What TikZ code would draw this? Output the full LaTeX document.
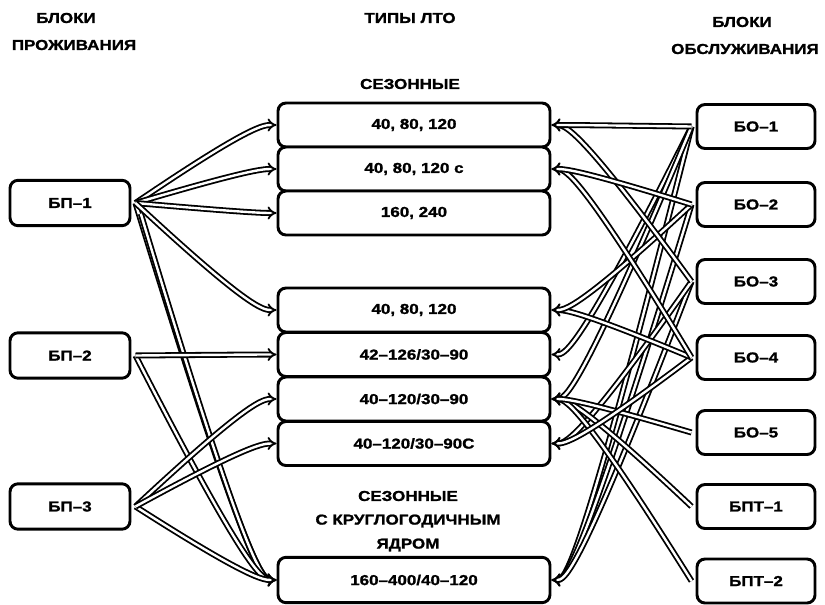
\documentclass[tikz,border=0pt]{standalone}
\usepackage{fontspec}
\newfontfamily\lbl{Liberation Sans}[FakeStretch=1.18, FakeBold=1.3]
\usetikzlibrary{arrows.meta,calc}
\newcommand\lcn[2]{\draw[conn] ([xshift=3pt]#1.east) .. controls ($(#2.west)+(-26,0)$) and ($(#2.west)+(-13,0)$) .. (#2.west);}
\newcommand\rcn[2]{\draw[conn] ([xshift=-3pt]#1.west) .. controls ($(#2.east)+(26,0)$) and ($(#2.east)+(13,0)$) .. (#2.east);}
\begin{document}
\begin{tikzpicture}[x=0.75pt,y=-0.75pt,
  txt/.style={font=\lbl\bfseries\fontsize{10.8}{12}\selectfont, inner sep=0pt},
  box/.style={txt, draw, line width=2.2pt, rounded corners=6pt, fill=white},
  lbox/.style={box, minimum width=90pt, minimum height=34pt},
  mbox/.style={box, minimum width=204pt, minimum height=33pt},
  rbox/.style={box, minimum width=88.5pt, minimum height=33pt},
  conn/.style={double, line width=1.35pt, double distance=1.8pt, -{Implies[scale=1.4]}}]
\useasboundingbox (0,0) rectangle (825,604);
% headers
\node[txt] (h1) at (66,18) {БЛОКИ};
\node[txt] (h2) at (74,45) {ПРОЖИВАНИЯ};
\node[txt] (h3) at (410,18) {ТИПЫ ЛТО};
\node[txt] (h4) at (410,84) {СЕЗОННЫЕ};
\node[txt] (h5) at (742,22) {БЛОКИ};
\node[txt] (h6) at (745,49) {ОБСЛУЖИВАНИЯ};
\node[txt] (h7) at (408,496) {СЕЗОННЫЕ};
\node[txt] (h8) at (408,521) {С КРУГЛОГОДИЧНЫМ};
\node[txt] (h9) at (408,545) {ЯДРОМ};
% left boxes
\node[lbox] (bp1) at (70,203) {БП–1};
\node[lbox] (bp2) at (70,355.5) {БП–2};
\node[lbox] (bp3) at (70,506.5) {БП–3};
% middle boxes
\node[mbox] (b1) at (414,125) {40, 80, 120};
\node[mbox] (b2) at (414,169) {40, 80, 120 с};
\node[mbox] (b3) at (414,213) {160, 240};
\node[mbox] (b4) at (414,310) {40, 80, 120};
\node[mbox] (b5) at (414,354.5) {42–126/30–90};
\node[mbox] (b6) at (414,399) {40–120/30–90};
\node[mbox] (b7) at (414,443.5) {40–120/30–90С};
\node[mbox, minimum height=34pt] (b8) at (414,580) {160–400/40–120};
% right boxes
\node[rbox] (bo1) at (756,126.5) {БО–1};
\node[rbox] (bo2) at (756,204.5) {БО–2};
\node[rbox] (bo3) at (756,281.5) {БО–3};
\node[rbox] (bo4) at (756,357.5) {БО–4};
\node[rbox] (bo5) at (756,432.5) {БО–5};
\node[rbox] (bpt1) at (756,506.5) {БПТ–1};
\node[rbox] (bpt2) at (756,581) {БПТ–2};
% left connectors
\lcn{bp1}{b8}
\draw[conn] ([xshift=7pt,yshift=-8pt]bp1.east) .. controls ($(b8.west)+(-26,0)$) and ($(b8.west)+(-13,0)$) .. (b8.west);
\lcn{bp2}{b8}
\lcn{bp3}{b8}
\lcn{bp1}{b1}
\lcn{bp1}{b2}
\lcn{bp1}{b3}
\lcn{bp1}{b4}
\lcn{bp2}{b5}
\lcn{bp3}{b6}
\lcn{bp3}{b7}
% right connectors
\rcn{bo1}{b8}
\rcn{bo2}{b8}
\rcn{bo3}{b8}
\rcn{bo1}{b5}
\rcn{bo1}{b6}
\rcn{bo3}{b7}
\rcn{bpt1}{b6}
\rcn{bpt2}{b6}
\rcn{bo5}{b6}
\rcn{bo4}{b7}
\rcn{bo4}{b4}
\rcn{bo2}{b4}
\rcn{bo4}{b2}
\rcn{bo3}{b1}
\rcn{bo2}{b2}
\rcn{bo1}{b1}
\end{tikzpicture}
\end{document}
